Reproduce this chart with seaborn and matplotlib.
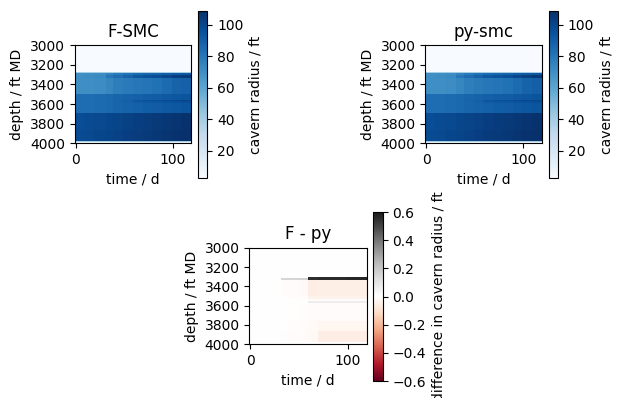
import numpy as np
import matplotlib
matplotlib.use("Agg")
import matplotlib.pyplot as plt
import seaborn as sns

# time column edges (days) and depth band edges (ft MD)
time_edges = [-1, 9, 19, 31, 39, 49, 59, 69, 79, 89, 99, 109, 119]
depth_edges = [3000, 3272, 3285, 3303, 3316, 3332, 3500, 3535, 3555, 3573, 3590,
               3688, 3760, 3860, 3977, 3988, 4000]

# cavern radius (ft) from F-SMC, one row per depth band, one value per time column
fsmc_radius = [
    [2.5, 2.5, 2.5, 2.5, 2.5, 2.5, 2.5, 2.5, 2.5, 2.5, 2.5, 2.5],
    [40, 40, 40, 40, 40, 40, 40, 40, 40, 40, 40, 40],
    [70, 70, 71, 75, 79, 82, 85, 87, 88, 90, 92, 93],
    [70, 71, 72, 80, 84, 88, 93, 95, 97, 100, 103, 105],
    [70, 71, 72, 80, 84, 88, 93, 95, 97, 100, 103, 105],
    [70, 70, 71, 74, 77, 79, 80, 81, 82, 85, 88, 89],
    [84, 84, 85, 86, 87, 88, 89, 90, 91, 92, 93, 94],
    [84, 84, 85, 86, 87, 88, 89, 90, 91, 92, 93, 94],
    [84, 84, 85, 86, 88, 90, 94, 96, 97, 98, 100, 101],
    [84, 84, 85, 86, 87, 89, 92, 93, 94, 95, 96, 97],
    [84, 84, 85, 86, 87, 88, 89, 90, 91, 92, 93, 94],
    [97, 98, 99, 100, 101, 102, 103, 104, 105, 106, 107, 108],
    [97, 98, 99, 100, 101, 102, 103, 104, 105, 106, 107, 108],
    [98, 99, 100, 101, 102, 103, 104, 105, 106, 107, 108, 109],
    [40, 40, 40, 40, 40, 40, 40, 40, 40, 40, 40, 40],
    [5, 5, 5, 5, 5, 5, 5, 5, 5, 5, 5, 5],
]

# F-SMC minus py-smc (ft)
radius_diff = [
    [0, 0, 0, 0, 0, 0, 0, 0, 0, 0, 0, 0],
    [0, 0, 0, 0, 0, 0, 0, 0, 0, 0, 0, 0],
    [0, 0, 0, 0, 0, 0, 0, 0, 0, 0, 0, 0],
    [0, 0, 0, 0, 0, 0, 0.55, 0.56, 0.56, 0.56, 0.57, 0.57],
    [0, 0, 0, 0.15, 0.15, 0.16, 0.55, 0.56, 0.56, 0.56, 0.57, 0.57],
    [0, 0, 0, -0.01, -0.01, -0.015, -0.06, -0.055, -0.055, -0.055, -0.055, -0.055],
    [0, 0, 0, 0, -0.01, -0.01, -0.04, -0.04, -0.04, -0.04, -0.04, -0.04],
    [0, 0, 0, 0, 0, -0.005, -0.01, -0.01, -0.01, -0.01, -0.01, -0.01],
    [0, 0, 0, 0, 0, 0, 0.07, 0.07, 0.07, 0.07, 0.07, 0.07],
    [0, 0, 0, 0, 0, -0.005, -0.01, -0.01, -0.01, -0.01, -0.01, -0.01],
    [0, 0, 0, 0, 0, -0.005, -0.01, -0.01, -0.01, -0.01, -0.01, -0.01],
    [0, 0, 0, 0, 0, -0.005, -0.01, -0.01, -0.01, -0.01, -0.01, -0.01],
    [0, 0, 0, 0, -0.005, -0.01, -0.015, -0.03, -0.03, -0.03, -0.03, -0.03],
    [0, 0, 0, -0.005, -0.01, -0.01, -0.02, -0.06, -0.06, -0.06, -0.06, -0.06],
    [0, 0, 0, 0, 0, 0, 0, 0, 0, 0, 0, 0],
    [0, 0, 0, 0, 0, 0, 0, 0, 0, 0, 0, 0],
]

fsmc = np.array(fsmc_radius, dtype=float)
diff = np.array(radius_diff, dtype=float)
pysmc = fsmc - diff

blues = sns.color_palette("Blues", as_cmap=True)
rdgy = sns.color_palette("RdGy", as_cmap=True)

fig = plt.figure(figsize=(6.22, 3.98), dpi=100)

# axes / colorbar rectangles placed to match the original layout
ax_f = fig.add_axes([0.1201, 0.640, 0.187, 0.2462])
cax_f = fig.add_axes([0.3188, 0.552, 0.0145, 0.421])
ax_p = fig.add_axes([0.6838, 0.640, 0.187, 0.2462])
cax_p = fig.add_axes([0.8826, 0.552, 0.0145, 0.421])
ax_d = fig.add_axes([0.4008, 0.1349, 0.1887, 0.2427])
cax_d = fig.add_axes([0.6002, 0.0427, 0.0151, 0.4246])


def draw(ax, cax, values, cmap, vmin, vmax, title, cbar_label):
    mesh = ax.pcolormesh(time_edges, depth_edges, values, cmap=cmap,
                         vmin=vmin, vmax=vmax, shading="flat",
                         antialiased=False, linewidth=0)
    ax.set_xlim(-1, 119)
    ax.set_ylim(4000, 3000)
    ax.set_yticks([3000, 3200, 3400, 3600, 3800, 4000])
    ax.set_xticks([0, 100])
    ax.set_xlabel("time / d")
    ax.set_ylabel("depth / ft MD")
    ax.set_title(title)
    cb = fig.colorbar(mesh, cax=cax)
    cb.set_label(cbar_label)
    return cb


draw(ax_f, cax_f, fsmc, blues, 2.5, 109, "F-SMC", "cavern radius / ft")
draw(ax_p, cax_p, pysmc, blues, 2.5, 109, "py-smc", "cavern radius / ft")
cb = draw(ax_d, cax_d, diff, rdgy, -0.6, 0.6, "F - py",
          "difference in cavern radius / ft")
cb.set_ticks([-0.6, -0.4, -0.2, 0.0, 0.2, 0.4, 0.6])

fig.savefig("out.png", dpi=100)
